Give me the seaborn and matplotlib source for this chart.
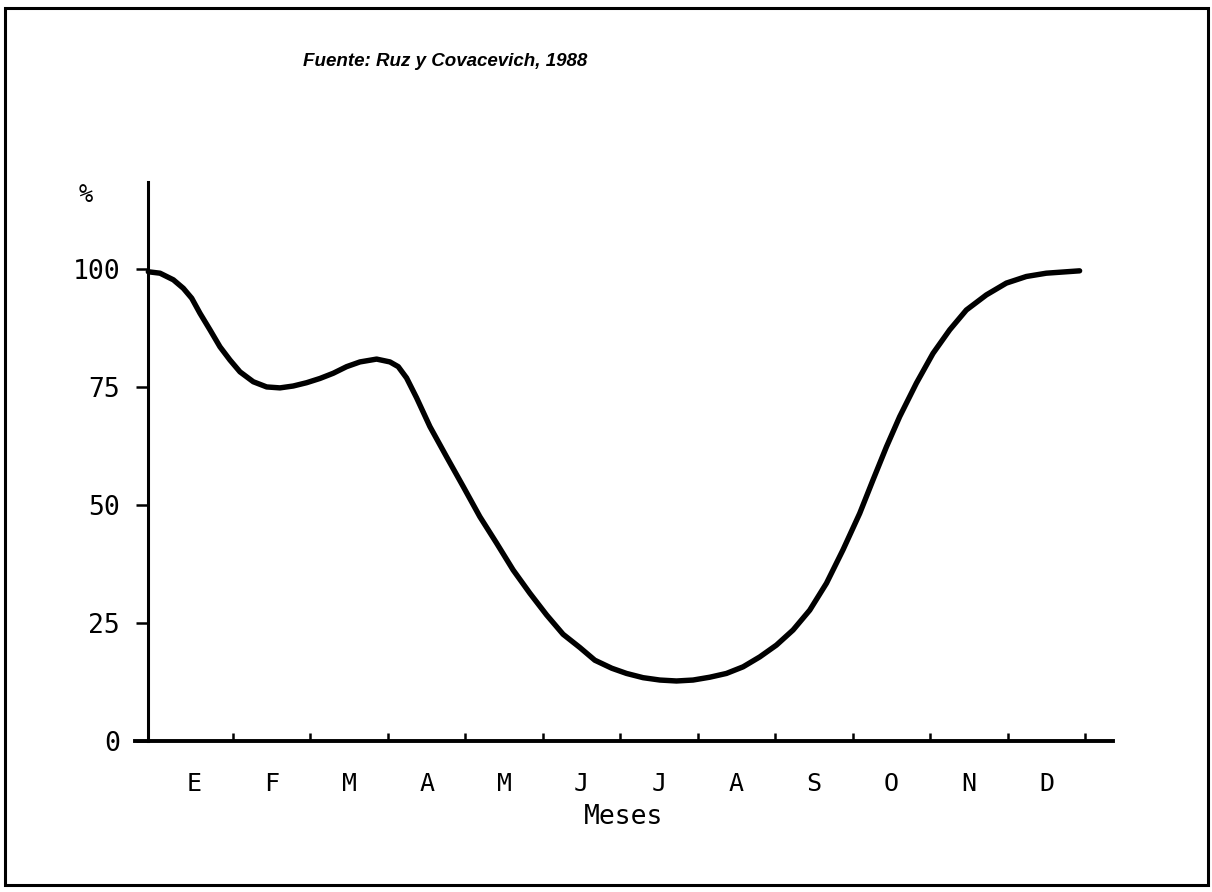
import matplotlib
matplotlib.use("Agg")
import matplotlib.pyplot as plt
import seaborn as sns
import pandas as pd
from matplotlib.patches import Rectangle
from matplotlib.ticker import FixedLocator, NullFormatter, FixedFormatter

# ---- data (month coordinate, percent) ----
month_pos = [-0.093, 0.058, 0.230, 0.359, 0.467, 0.574, 0.703, 0.832, 0.961, 1.090,
             1.262, 1.435, 1.606, 1.778, 1.951, 2.123, 2.294, 2.467, 2.639, 2.854,
             3.026, 3.133, 3.241, 3.370, 3.542, 3.757, 3.972, 4.187, 4.403, 4.617,
             4.832, 5.048, 5.261, 5.477, 5.671, 5.890, 6.080, 6.294, 6.510, 6.725,
             6.939, 7.155, 7.370, 7.585, 7.800, 8.015, 8.230, 8.445, 8.661, 8.875,
             9.090, 9.262, 9.435, 9.606, 9.822, 10.036, 10.252, 10.467, 10.725,
             10.983, 11.241, 11.499, 11.757, 11.929]
percent = [99.5, 99.2, 97.8, 96.0, 93.9, 90.7, 87.2, 83.6, 80.8, 78.3,
           76.2, 75.1, 74.9, 75.3, 76.0, 76.9, 78.0, 79.4, 80.4, 81.0,
           80.4, 79.4, 77.0, 72.8, 66.7, 60.3, 54.0, 47.6, 42.0, 36.3,
           31.4, 26.8, 22.7, 19.9, 17.2, 15.5, 14.4, 13.5, 13.0, 12.8,
           13.0, 13.6, 14.4, 15.8, 17.9, 20.4, 23.6, 27.8, 33.5, 40.6,
           48.3, 55.4, 62.4, 68.8, 75.9, 82.2, 87.2, 91.4, 94.6,
           97.1, 98.5, 99.2, 99.5, 99.7]
month_labels = ["E", "F", "M", "A", "M", "J", "J", "A", "S", "O", "N", "D"]
y_ticks = [0, 25, 50, 75, 100]
title = "Fuente: Ruz y Covacevich, 1988"

df = pd.DataFrame({"mes": month_pos, "pct": percent})

sns.set_theme(style="white")
plt.rcParams["font.family"] = ["DejaVu Sans Mono", "DejaVu Sans"]

W, H = 1212, 892
fig = plt.figure(figsize=(W / 100, H / 100), dpi=100)
ax_left, ax_right = 135, 1113
ax_bottom, ax_top = 741.4, 182.1
ax = fig.add_axes([ax_left / W, 1 - ax_bottom / H, (ax_right - ax_left) / W,
                   (ax_bottom - ax_top) / H])

sns.lineplot(data=df, x="mes", y="pct", ax=ax, color="black", linewidth=3.9,
             estimator=None, sort=False, solid_joinstyle="round",
             solid_capstyle="round")

ax.set_xlim(-0.265, 12.36)
ax.set_ylim(0, 118.5)

for s in ["top", "right"]:
    ax.spines[s].set_visible(False)
ax.spines["left"].set_position(("data", -0.1))
ax.spines["left"].set_linewidth(2.2)
ax.spines["bottom"].set_linewidth(2.8)
ax.spines["left"].set_color("black")
ax.spines["bottom"].set_color("black")

ax.set_yticks(y_ticks)
ax.set_yticklabels([str(v) for v in y_ticks], fontsize=19)
ax.tick_params(axis="y", direction="out", length=9, width=1.8, pad=11, colors="black",
               left=True)

ax.xaxis.set_major_locator(FixedLocator(list(range(1, 13))))
ax.xaxis.set_major_formatter(NullFormatter())
ax.xaxis.set_minor_locator(FixedLocator([k + 0.5 for k in range(12)]))
ax.xaxis.set_minor_formatter(FixedFormatter(month_labels))
ax.tick_params(axis="x", which="major", direction="in", length=6, width=1.8,
               colors="black", bottom=True)
ax.tick_params(axis="x", which="minor", length=0, pad=22, labelsize=18,
               colors="black", bottom=True)

ax.set_xlabel("Meses", fontsize=19, labelpad=6, color="black")
ax.set_ylabel("")

fig.text(86 / W, 1 - 195 / H, "%", fontsize=17, ha="center", va="center",
         color="black")
fig.text(445 / W, 1 - 62 / H, title, fontsize=13.5, fontweight="bold",
         fontstyle="italic", ha="center", va="center", color="black",
         family=["Liberation Sans Narrow", "Liberation Sans", "DejaVu Sans"])

fig.patches.append(Rectangle((5 / W, 1 - 885 / H), (1208 - 5) / W,
                             (885 - 8) / H, transform=fig.transFigure,
                             fill=False, edgecolor="black", linewidth=2.2))

fig.savefig("out.png", dpi=100)
